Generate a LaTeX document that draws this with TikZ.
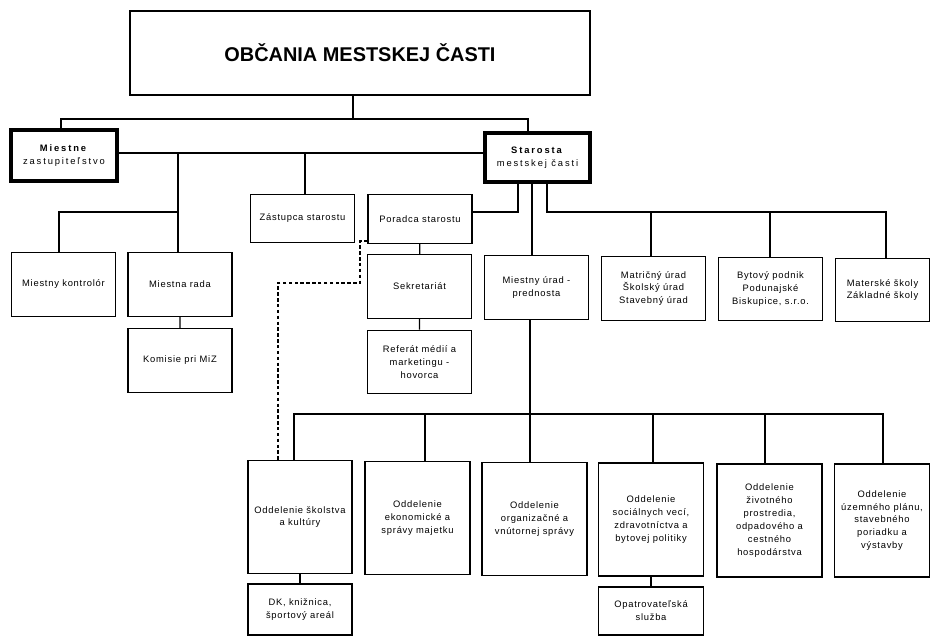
\documentclass[tikz,border=0pt]{standalone}
\usepackage{fontspec}
\setmainfont{Liberation Sans}
\newfontfamily\boxfont[LetterSpace=8]{Liberation Sans}
\newfontfamily\headfont[LetterSpace=20]{Liberation Sans}
\usetikzlibrary{calc}
\tikzset{org box/.style={rectangle,draw,line width=1.1pt,align=center,inner sep=1pt,font=\boxfont\fontsize{8}{11}\selectfont},
	head box/.style={org box,line width=3pt,font=\headfont\fontsize{8}{11}\selectfont},
	title box/.style={org box,line width=1.6pt,font=\fontsize{17}{20}\selectfont\bfseries},
	small box/.style={org box,minimum width=3.12cm,minimum height=1.46cm},
	row box/.style={org box,minimum width=3.12cm,minimum height=1.9cm},
	dept box/.style={org box,minimum width=3.15cm,minimum height=3.39cm},
	org line/.style={line width=1pt},
	main line/.style={line width=1.6pt}}

\begin{document}
\begin{tikzpicture}[x=0.03cm,y=-0.03cm]
	\useasboundingbox (0,0) rectangle (932,637);

	\node (obcania)		[title box,minimum width=13.8cm,minimum height=2.52cm] at (360,53) {OBČANIA MESTSKEJ ČASTI};
	\node (zastup)		[head box,minimum width=3.18cm,minimum height=1.53cm] at (64,155.5) {\textbf{Miestne}\\zastupiteľstvo};
	\node (starosta)	[head box,minimum width=3.15cm,minimum height=1.47cm] at (537.5,157.5) {\textbf{Starosta}\\mestskej časti};

	\node (zastupca)	[small box] at (302.5,218.5) {Zástupca starostu};
	\node (poradca)		[small box] at (420,219) {Poradca starostu};
	\node (kontrolor)	[row box] at (63.5,284.5) {Miestny kontrolór};
	\node (rada)		[row box] at (180,284.5) {Miestna rada};
	\node (komisie)		[row box] at (180,360.5) {Komisie pri MiZ};
	\node (sekretariat)	[row box] at (419.5,286.5) {Sekretariát};
	\node (referat)		[row box] at (419.5,362) {Referát médií a\\marketingu -\\hovorca};
	\node (urad)		[row box] at (536.5,287.5) {Miestny úrad -\\prednosta};
	\node (matrika)		[row box] at (653.5,288.5) {Matričný úrad\\Školský úrad\\Stavebný úrad};
	\node (bytovy)		[row box] at (770.5,289) {Bytový podnik\\Podunajské\\Biskupice, s.r.o.};
	\node (skoly)		[row box,minimum width=2.82cm] at (882.5,290) {Materské školy\\Základné školy};

	\node (skolstvo)	[dept box,minimum width=3.12cm] at (300,517) {Oddelenie školstva\\a kultúry};
	\node (ekonom)		[dept box] at (417.5,518) {Oddelenie\\ekonomické a\\správy majetku};
	\node (organiz)		[dept box] at (534.5,519) {Oddelenie\\organizačné a\\vnútornej správy};
	\node (socialne)	[dept box] at (651,519.5) {Oddelenie\\sociálnych vecí,\\zdravotníctva a\\bytovej politiky};
	\node (zivotne)		[dept box] at (769.5,520.5) {Oddelenie\\životného\\prostredia,\\odpadového a\\cestného\\hospodárstva};
	\node (uzemne)		[dept box,minimum width=2.85cm] at (882,520.5) {Oddelenie\\územného plánu,\\stavebného\\poriadku a\\výstavby};
	\node (dk)			[org box,minimum width=3.12cm,minimum height=1.53cm] at (300,609.5) {DK, knižnica,\\športový areál};
	\node (opatrov)		[org box,minimum width=3.15cm,minimum height=1.44cm] at (651,611) {Opatrovateľská\\služba};

	\coordinate (j0) at (353,119);
	\coordinate (jl) at (61,119);
	\coordinate (jr) at (528,119);
	\coordinate (ja) at (178,153);
	\coordinate (jb) at (305,153);
	\coordinate (jc) at (178,212);
	\coordinate (jd) at (59,212);
	\coordinate (je) at (518,212);
	\coordinate (jf) at (532,212);
	\coordinate (jg) at (547,212);
	\coordinate (jh) at (886,212);
	\coordinate (jk) at (530,414);
	\coordinate (jm) at (294,414);
	\coordinate (jn) at (883,414);

	\draw [main line] (obcania.south -| j0) -- (j0) (zastup.north -| jl) -- (jl) -- (jr) -- (starosta.north -| jr);
	\draw [main line] (zastup.east |- ja) -- (starosta.west |- ja);
	\draw [org line] (ja) -- (rada.north -| ja) (jb) -- (zastupca.north -| jb) (jc) -- (jd) -- (kontrolor.north -| jd);
	\draw [org line] (rada) -- (komisie) (poradca) -- (sekretariat) -- (referat);
	\draw [org line] (starosta.south -| je) -- (je) -- (poradca.east |- je) (starosta.south -| jf) -- (urad.north -| jf);
	\draw [main line] (starosta.south -| jg) -- (jg) -- (jh) -- (skoly.north -| jh);
	\foreach \n/\x in {matrika/651,bytovy/770}
		\draw [org line] (\x,212) -- (\n.north -| \x,212);
	\draw [org line] (urad.south -| jk) -- (jk) -- (organiz.north -| jk) (skolstvo.north -| jm) -- (jm) -- (jn) -- (uzemne.north -| jn);
	\foreach \n/\x in {ekonom/425,socialne/653,zivotne/765}
		\draw [org line] (\x,414) -- (\n.north -| \x,414);
	\draw [org line] (skolstvo) -- (dk) (socialne) -- (opatrov);
	\draw [org line,densely dashed] (poradca.west |- 0,241) -- (360,241) -- (360,283) -- (278,283) -- (skolstvo.north -| 278,0);
\end{tikzpicture}
\end{document}
